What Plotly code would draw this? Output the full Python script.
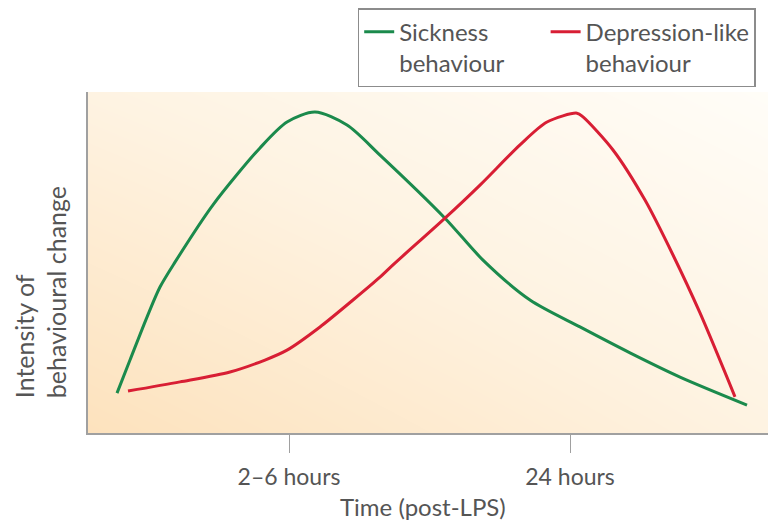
import plotly.graph_objects as go

# Time axis in arbitrary units; intensity 0-100 (arbitrary)
sick_x = [2.9, 4.2, 5.9, 7.2, 8.7, 12.5, 17.2, 19.9, 22.7, 25.9, 29.2, 35.7, 39.5, 44.2, 49.2, 54.2, 59.2, 65.9]
sick_y = [11.7, 21.4, 34.0, 42.8, 50.1, 66.9, 83.6, 91.2, 94.1, 90.3, 81.5, 63.0, 50.7, 39.0, 31.1, 23.5, 16.4, 8.2]

dep_x = [4.0, 9.2, 14.2, 17.7, 19.9, 23.2, 26.5, 29.2, 30.5, 35.7, 39.2, 43.2, 45.9, 48.9, 49.5, 52.5, 55.7, 58.5, 61.2, 64.7]
dep_y = [12.3, 15.0, 17.9, 21.4, 24.3, 31.1, 39.0, 45.7, 49.3, 63.0, 72.7, 84.5, 91.2, 93.8, 92.7, 83.0, 68.3, 52.2, 35.2, 10.6]

series_names = ["Sickness<br>behaviour\u00a0\u00a0\u00a0\u00a0\u00a0\u00a0", "Depression-like<br>behaviour"]

tick_vals = [20.1, 48.2]
tick_text = ["2\u20136 hours", "24 hours"]

x_range = [0, 68.8]
y_range = [0, 100]

FONT = "Lato"
TXT = "#555555"

fig = go.Figure()

# background gradient
fig.add_trace(go.Heatmap(
    x=x_range, y=y_range, z=[[0, 0.55], [0.55, 1]],
    zsmooth="best", showscale=False, hoverinfo="skip", showlegend=False,
    colorscale=[[0, "#fde2bd"], [0.55, "#fef3e2"], [1, "#fffdf8"]],
    zmin=0, zmax=1,
))

fig.add_trace(go.Scatter(
    x=sick_x, y=sick_y, mode="lines", name=series_names[0],
    line=dict(color="#1b8a4c", width=3, shape="spline", smoothing=0.8),
))
fig.add_trace(go.Scatter(
    x=dep_x, y=dep_y, mode="lines", name=series_names[1],
    line=dict(color="#d81e34", width=3, shape="spline", smoothing=0.8),
))

fig.update_layout(
    width=768, height=513,
    margin=dict(l=80, r=0, t=84, b=88, autoexpand=False),
    paper_bgcolor="white", plot_bgcolor="white",
    font=dict(family=FONT, color=TXT),
    showlegend=True,
    legend=dict(
        orientation="h", x=0.392, xanchor="left", y=1.246, yanchor="top",
        bordercolor="#8c8c8c", borderwidth=1.5, bgcolor="white",
        font=dict(size=24, color=TXT, family=FONT), valign="top",
        itemwidth=30, tracegroupgap=0,
    ),
    xaxis=dict(
        range=x_range, showgrid=False, zeroline=False,
        showline=True, linecolor="#a0a0a0", linewidth=2,
        ticks="outside", ticklen=18, tickwidth=1, tickcolor="#a0a0a0",
        tickvals=tick_vals, ticktext=tick_text, ticklabelstandoff=4,
        tickfont=dict(size=23, color=TXT, family=FONT),
    ),
    yaxis=dict(
        range=y_range, showgrid=False, zeroline=False,
        showline=True, linecolor="#a0a0a0", linewidth=2,
        showticklabels=False, ticks="",
    ),
    annotations=[
        dict(text="Intensity of<br>behavioural change", textangle=-90,
             xref="paper", yref="paper", x=-0.0698, y=0.413,
             xanchor="center", yanchor="middle", align="left", showarrow=False,
             font=dict(size=25, color=TXT, family=FONT)),
        dict(text="Time (post-LPS)", xref="x", yref="paper", x=33.5, y=-0.217,
             xanchor="center", yanchor="middle", showarrow=False,
             font=dict(size=24, color=TXT, family=FONT)),
    ],
)

fig.write_html("out.html")
